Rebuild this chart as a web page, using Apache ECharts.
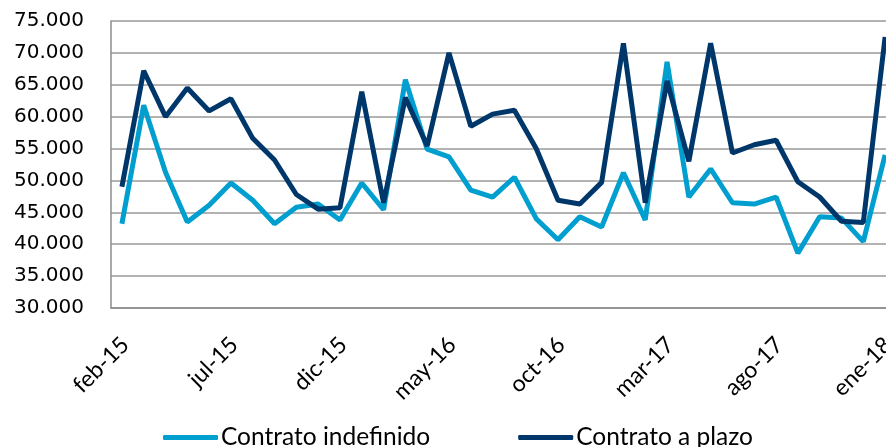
<!DOCTYPE html>
<html><head><meta charset="utf-8">
<script src="https://cdn.jsdelivr.net/npm/echarts@6/dist/echarts.min.js"></script>
<style>html,body{margin:0;padding:0;background:#fff;overflow:hidden}#c{width:886px;height:447px}</style>
</head><body><div id="c"></div>
<script>
const categories = ['feb-15','mar-15','abr-15','may-15','jun-15','jul-15','ago-15','sep-15','oct-15','nov-15','dic-15',
  'ene-16','feb-16','mar-16','abr-16','may-16','jun-16','jul-16','ago-16','sep-16','oct-16','nov-16','dic-16',
  'ene-17','feb-17','mar-17','abr-17','may-17','jun-17','jul-17','ago-17','sep-17','oct-17','nov-17','dic-17','ene-18'];
const indefinido = [43200,61800,51300,43500,46100,49600,46900,43200,45800,46300,43800,
  49600,45400,65800,54900,53700,48500,47400,50500,44000,40700,44300,42700,
  51200,43800,68600,47400,51800,46500,46300,47400,38600,44300,44100,40400,54000];
const plazo = [49000,67200,60000,64500,60900,62800,56600,53200,47800,45500,45700,
  63900,46500,63000,55400,70000,58500,60400,61000,55000,46900,46300,49700,
  71500,46500,65600,53000,71500,54300,55600,56300,49800,47400,43600,43400,72500];
const yTicks = {min:30000, max:75000, interval:5000};

const chart = echarts.init(document.getElementById('c'), null, {renderer:'canvas'});
const fmt = v => (v/1000).toFixed(3);
chart.setOption({
  animation:false,
  grid:{left:111, top:21, height:287, width:785, containLabel:false, outerBoundsMode:'none'},
  legend:{
    left:158, top:420, itemWidth:55, itemHeight:5, itemGap:88, icon:'roundRect',
    textStyle:{fontFamily:'Lato', fontSize:24.5, color:'#000', padding:[0,0,0,-2]},
    data:['Contrato indefinido','Contrato a plazo']
  },
  xAxis:{
    type:'category', data:categories, boundaryGap:true,
    axisLine:{lineStyle:{color:'#8c8c8c', width:1.5}},
    axisTick:{show:false},
    axisLabel:{interval:4, rotate:45, margin:20, verticalAlign:'top', padding:[0,7,0,0], fontFamily:'Lato', fontSize:23, color:'#000', hideOverlap:false}
  },
  yAxis:{
    type:'value', min:yTicks.min, max:yTicks.max, interval:yTicks.interval,
    axisLine:{show:true, lineStyle:{color:'#8c8c8c', width:1.5}},
    axisTick:{show:false},
    splitLine:{lineStyle:{color:'#9a9a9a', width:1.5}},
    axisLabel:{formatter:fmt, margin:27, fontFamily:'DejaVu Sans', fontSize:20, color:'#000'}
  },
  series:[
    {name:'Contrato indefinido', type:'line', data:indefinido, symbol:'none',
     lineStyle:{color:'#009fcf', width:5}, itemStyle:{color:'#009fcf'}},
    {name:'Contrato a plazo', type:'line', data:plazo, symbol:'none',
     lineStyle:{color:'#00376b', width:5}, itemStyle:{color:'#00376b'}}
  ]
});
</script></body></html>
